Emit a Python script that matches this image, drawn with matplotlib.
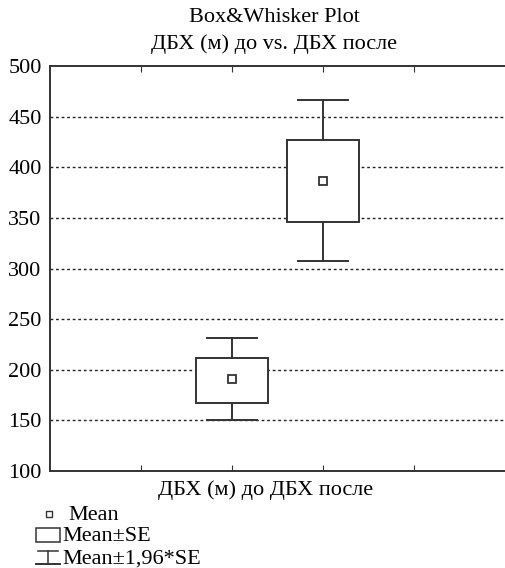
import matplotlib
matplotlib.use("Agg")
import matplotlib.pyplot as plt
from matplotlib.patches import Rectangle
from matplotlib.lines import Line2D

plt.rcParams['font.family'] = ['Liberation Serif', 'DejaVu Serif']

positions = [2, 3]
means = [190.5, 386.5]
box_low = [167.5, 345.5]
box_high = [211.5, 427.0]
whisk_low = [150.0, 307.5]
whisk_high = [231.0, 466.5]
yticks = [100, 150, 200, 250, 300, 350, 400, 450, 500]
xticks = [1, 2, 3, 4]

fig = plt.figure(figsize=(5.05, 5.68), dpi=100)
ax = fig.add_axes([50/505, 1-471/568, 455/505, 405/568])
col = '#333333'
fs = 16

for p, m, bl, bh, wl, wh in zip(positions, means, box_low, box_high, whisk_low, whisk_high):
    ax.add_patch(Rectangle((p - 0.4, bl), 0.8, bh - bl, facecolor='white',
                           edgecolor=col, lw=1.4, zorder=3))
    ax.plot([p, p], [bh, wh], color=col, lw=1.4, zorder=3)
    ax.plot([p, p], [wl, bl], color=col, lw=1.4, zorder=3)
    ax.plot([p - 0.28, p + 0.28], [wh, wh], color=col, lw=1.4, zorder=3)
    ax.plot([p - 0.28, p + 0.28], [wl, wl], color=col, lw=1.4, zorder=3)
    ax.plot([p], [m], marker='s', ms=6, mfc='white', mec=col, mew=1.3, zorder=4)

ax.set_xlim(0, 5)
ax.set_ylim(100, 500)
ax.set_yticks(yticks)
ax.set_xticks(xticks)
ax.set_xticklabels([])
ax.tick_params(axis='x', direction='in', length=4, top=True, bottom=True, color=col)
ax.tick_params(axis='y', length=0, labelsize=fs, pad=6)
for y in yticks[1:-1]:
    ax.axhline(y, color='#222222', lw=1.0, ls=(0, (2, 2)), zorder=1)
ax.spines['right'].set_visible(False)
for s in ax.spines.values():
    s.set_color(col)
    s.set_linewidth(1.4)

fig.text(274/505, 1-17/568, 'Box&Whisker Plot', ha='center', va='center', fontsize=fs)
fig.text(274/505, 1-44/568, 'ДБХ (м) до vs. ДБХ после', ha='center', va='center', fontsize=fs)
fig.text(266/505, 1-490/568, 'ДБХ (м) до ДБХ после', ha='center', va='center', fontsize=fs)

# legend
fig.add_artist(Line2D([48.5/505], [1-513.5/568], marker='s', ms=4.5, mfc='white', mec=col,
                      mew=1.0, transform=fig.transFigure))
fig.text(68/505, 1-520/568, 'Mean', ha='left', va='baseline', fontsize=fs)
fig.add_artist(Rectangle((36/505, 1-541.5/568), 24/505, 13.5/568, facecolor='white',
                         edgecolor=col, lw=1.1, transform=fig.transFigure))
fig.text(62/505, 1-541/568, 'Mean±SE', ha='left', va='baseline', fontsize=fs)
fig.add_artist(Line2D([36/505, 60/505], [1-564/568, 1-564/568], color=col, lw=1.4,
                      transform=fig.transFigure))
fig.add_artist(Line2D([38/505, 58/505], [1-551/568, 1-551/568], color=col, lw=1.1,
                      transform=fig.transFigure))
fig.add_artist(Line2D([48/505, 48/505], [1-564/568, 1-551/568], color=col, lw=1.1,
                      transform=fig.transFigure))
fig.text(62/505, 1-564/568, 'Mean±1,96*SE', ha='left', va='baseline', fontsize=fs)

fig.savefig('out.png', dpi=100)
